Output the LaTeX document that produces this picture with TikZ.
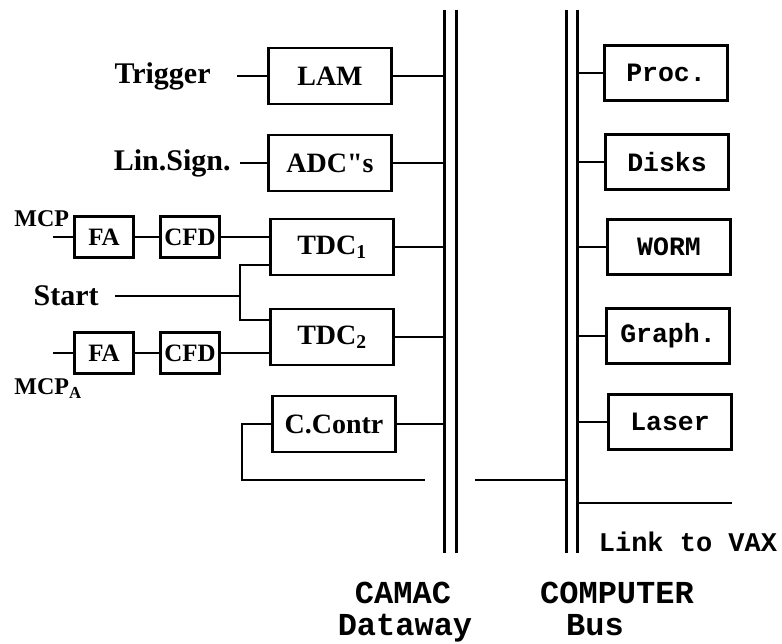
\documentclass[tikz,border=0pt]{standalone}
\usepackage{fontspec}
\setmainfont{Liberation Serif}
\setmonofont{Liberation Mono}
\usetikzlibrary{positioning, calc}
\tikzset{
  every picture/.style={line width=2.8pt},
  crate/.style={draw, font=\rmfamily\bfseries\fontsize{28}{30}\selectfont, minimum width=123pt, minimum height=56pt, inner sep=1pt},
  module/.style={draw, font=\rmfamily\bfseries\fontsize{25}{27}\selectfont, minimum width=59pt, minimum height=41pt, inner sep=0pt},
  device/.style={draw, font=\ttfamily\bfseries\fontsize{26.5}{28}\selectfont, minimum width=123pt, minimum height=55pt, inner sep=1pt},
  signame/.style={font=\rmfamily\bfseries\fontsize{30}{32}\selectfont, inner sep=0pt},
  mcpname/.style={font=\rmfamily\bfseries\fontsize{24}{26}\selectfont, inner sep=0pt},
  busname/.style={font=\ttfamily\bfseries\fontsize{32}{34}\selectfont, inner sep=0pt, anchor=base},
  bus/.style={line width=3pt},
}
\begin{document}
\begin{tikzpicture}[x=1pt, y=-1pt]
  \useasboundingbox (0,0) rectangle (782,644);
  % CAMAC dataway and computer bus
  \foreach \n/\x in {camacL/444, camacR/456, compL/566, compR/577} {
    \coordinate (\n) at (\x,10);
    \coordinate (\n-b) at (\x,553);
    \draw[bus] (\n) -- (\n-b);
  }
  \node[busname] (camactxt) at (403,603) {CAMAC};
  \node[busname] (datatxt) at (405,635) {Dataway};
  \node[busname] (comptxt) at (617,603) {COMPUTER};
  \node[busname] (bustxt) at (595,635) {Bus};

  % crates on the dataway
  \foreach \n/\x/\y/\txt in {lam/330/76/LAM, adc/330/163/ADC\textquotedbl s, tdcA/332/247/TDC\textsubscript{1},
      tdcB/332/337/TDC\textsubscript{2}, cc/334/424/C.Contr} {
    \node[crate] (\n) at (\x,\y) {\txt};
    \draw (\n.east) -- (\n.east -| camacL);
  }

  % devices on the computer bus
  \foreach \n/\x/\y/\txt in {proc/666/73/Proc., disk/667/162/Disks, worm/669/247/WORM,
      graph/668/336/Graph., laser/670/422/Laser} {
    \node[device] (\n) at (\x,\y) {\txt};
    \draw (\n.west -| compR) -- (\n.west);
  }

  % signal inputs
  \coordinate (trigin) at (237,76);
  \node[signame, left=25pt of trigin] (trig) {Trigger};
  \draw (trigin) -- (lam.west);
  \coordinate (linin) at (240,163);
  \node[signame, left=8pt of linin] (lin) {Lin.Sign.};
  \draw (linin) -- (adc.west);

  % the two MCP chains
  \foreach \s/\y in {A/237, B/353} {
    \coordinate (mcp\s) at (53,\y);
    \node[module] (fa\s) at (104,\y) {FA};
    \node[module] (cfd\s) at (190,\y) {CFD};
    \draw (mcp\s) -- (fa\s) -- (cfd\s) -- (cfd\s.east -| tdc\s.west);
  }
  \node[mcpname, anchor=base west] (mcptxt) at (13,227) {MCP};
  \node[mcpname, anchor=base west] (mcpAtxt) at (13,395) {MCP\textsubscript{A}};

  % common start
  \coordinate (startin) at (115,296);
  \coordinate (fork) at (240,296);
  \coordinate (forkA) at (240,265);
  \coordinate (forkB) at (240,320);
  \node[signame, left=15pt of startin] (start) {Start};
  \draw (startin) -- (fork);
  \draw (forkA -| tdcA.west) -- (forkA) -- (forkB) -- (forkB -| tdcB.west);

  % crate controller loop and links
  \coordinate (loopL) at (242,480);
  \coordinate (loopend) at (425,480);
  \draw (cc.west) -| (loopL) -- (loopend);
  \coordinate (hostin) at (475,480);
  \draw (hostin) -- (hostin -| compL);
  \coordinate (link) at (732,503);
  \draw (link -| compR) -- (link);
  \node[font=\ttfamily\bfseries\fontsize{27}{28}\selectfont, inner sep=0pt] (linktxt) at (688,542) {Link to VAX};
\end{tikzpicture}
\end{document}
